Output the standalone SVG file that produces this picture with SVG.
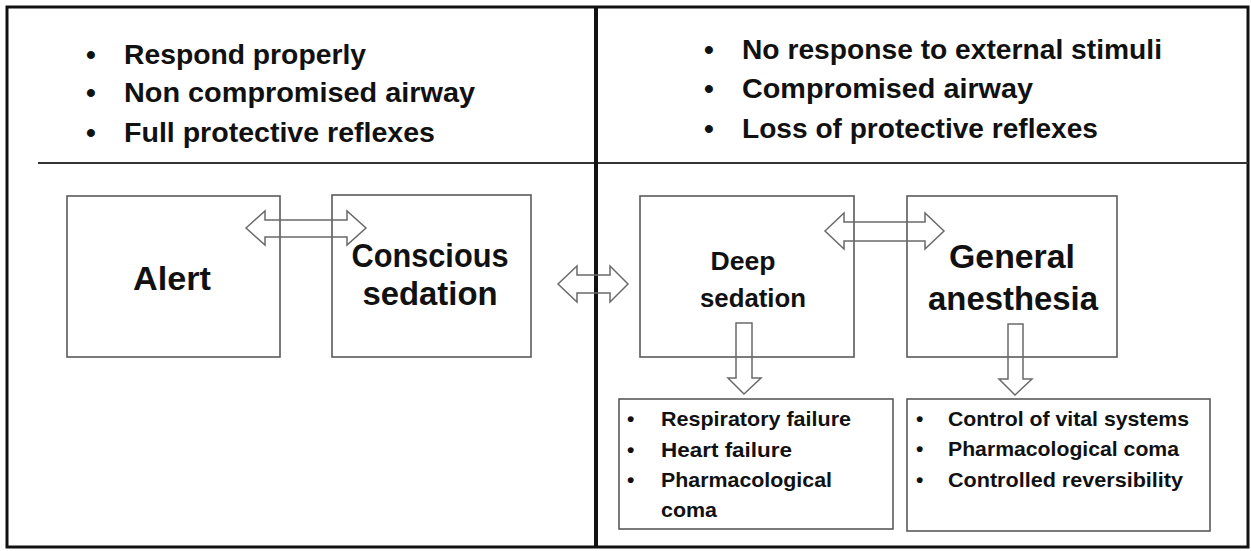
<svg xmlns="http://www.w3.org/2000/svg" width="1251" height="551" viewBox="0 0 1251 551">
<style>
text{font-family:"Liberation Sans",Arial,sans-serif;font-weight:bold;fill:#111}
.top{font-size:28px}
.big{font-size:33px;text-anchor:middle}
.mid{font-size:26px;text-anchor:middle}
.sm{font-size:21px}
.box{fill:none;stroke:#5a5a5a;stroke-width:1.6}
.arr{fill:none;stroke:#6a6a6a;stroke-width:1.5;stroke-linejoin:miter}
</style>
<rect width="1251" height="551" fill="#fff"/>
<g id="frame">
<rect x="7" y="7" width="1241" height="540" fill="none" stroke="#111" stroke-width="3"/>
<line x1="38" y1="163" x2="1248" y2="163" stroke="#333" stroke-width="2"/>
<line x1="596" y1="7" x2="596" y2="547" stroke="#111" stroke-width="4"/>
</g>
<g id="top-left-list">
<text class="top" x="86" y="64">•</text>
<text class="top" x="124" y="64" textLength="242" lengthAdjust="spacingAndGlyphs">Respond properly</text>
<text class="top" x="86" y="102">•</text>
<text class="top" x="124" y="102" textLength="351" lengthAdjust="spacingAndGlyphs">Non compromised airway</text>
<text class="top" x="86" y="142">•</text>
<text class="top" x="124" y="142" textLength="311" lengthAdjust="spacingAndGlyphs">Full protective reflexes</text>
</g>
<g id="top-right-list">
<text class="top" x="704" y="59">•</text>
<text class="top" x="742" y="59" textLength="420" lengthAdjust="spacingAndGlyphs">No response to external stimuli</text>
<text class="top" x="704" y="98">•</text>
<text class="top" x="742" y="98" textLength="291" lengthAdjust="spacingAndGlyphs">Compromised airway</text>
<text class="top" x="704" y="138">•</text>
<text class="top" x="742" y="138" textLength="356" lengthAdjust="spacingAndGlyphs">Loss of protective reflexes</text>
</g>
<g id="node-alert">
<rect class="box" x="67" y="196" width="213" height="161"/>
<text class="big" x="172" y="290" textLength="78" lengthAdjust="spacingAndGlyphs">Alert</text>
</g>
<g id="node-conscious-sedation">
<rect class="box" x="332" y="195" width="199" height="162"/>
<text class="big" x="430" y="267" textLength="157" lengthAdjust="spacingAndGlyphs">Conscious</text>
<text class="big" x="430" y="305" textLength="135" lengthAdjust="spacingAndGlyphs">sedation</text>
</g>
<g id="node-deep-sedation">
<rect class="box" x="640" y="196" width="214" height="161"/>
<text class="mid" x="743" y="270" textLength="65" lengthAdjust="spacingAndGlyphs">Deep</text>
<text class="mid" x="753" y="307" textLength="106" lengthAdjust="spacingAndGlyphs">sedation</text>
</g>
<g id="node-general-anesthesia">
<rect class="box" x="907" y="196" width="210" height="161"/>
<text class="big" x="1012" y="268" textLength="126" lengthAdjust="spacingAndGlyphs">General</text>
<text class="big" x="1013" y="310" textLength="170" lengthAdjust="spacingAndGlyphs">anesthesia</text>
</g>
<g id="node-deep-effects">
<rect class="box" x="619" y="399" width="274" height="130"/>
<text class="sm" x="627" y="426">•</text>
<text class="sm" x="661" y="426" textLength="190" lengthAdjust="spacingAndGlyphs">Respiratory failure</text>
<text class="sm" x="627" y="457">•</text>
<text class="sm" x="661" y="457" textLength="131" lengthAdjust="spacingAndGlyphs">Heart failure</text>
<text class="sm" x="627" y="487">•</text>
<text class="sm" x="661" y="487" textLength="171" lengthAdjust="spacingAndGlyphs">Pharmacological</text>
<text class="sm" x="661" y="517" textLength="56" lengthAdjust="spacingAndGlyphs">coma</text>
</g>
<g id="node-general-effects">
<rect class="box" x="907" y="399" width="303" height="132"/>
<text class="sm" x="916" y="426">•</text>
<text class="sm" x="948" y="426" textLength="241" lengthAdjust="spacingAndGlyphs">Control of vital systems</text>
<text class="sm" x="916" y="456">•</text>
<text class="sm" x="948" y="456" textLength="231" lengthAdjust="spacingAndGlyphs">Pharmacological coma</text>
<text class="sm" x="916" y="487">•</text>
<text class="sm" x="948" y="487" textLength="235" lengthAdjust="spacingAndGlyphs">Controlled reversibility</text>
</g>
<g id="connectors">
<path class="arr" d="M246,228 L265,211 L265,220 L347,220 L347,211 L366,228 L347,245 L347,237 L265,237 L265,245 Z"/>
<path class="arr" d="M558,284 L577,266 L577,275 L610,275 L610,266 L628,284 L610,302 L610,293 L577,293 L577,302 Z"/>
<path class="arr" d="M825,231 L844,213 L844,222 L925,222 L925,213 L944,231 L925,249 L925,241 L844,241 L844,249 Z"/>
<path class="arr" d="M736,323 L752,323 L752,378 L761,378 L744,394 L728,378 L736,378 Z"/>
<path class="arr" d="M1008,324 L1023,324 L1023,379 L1032,379 L1015,395 L999,379 L1008,379 Z"/>
</g>
</svg>
